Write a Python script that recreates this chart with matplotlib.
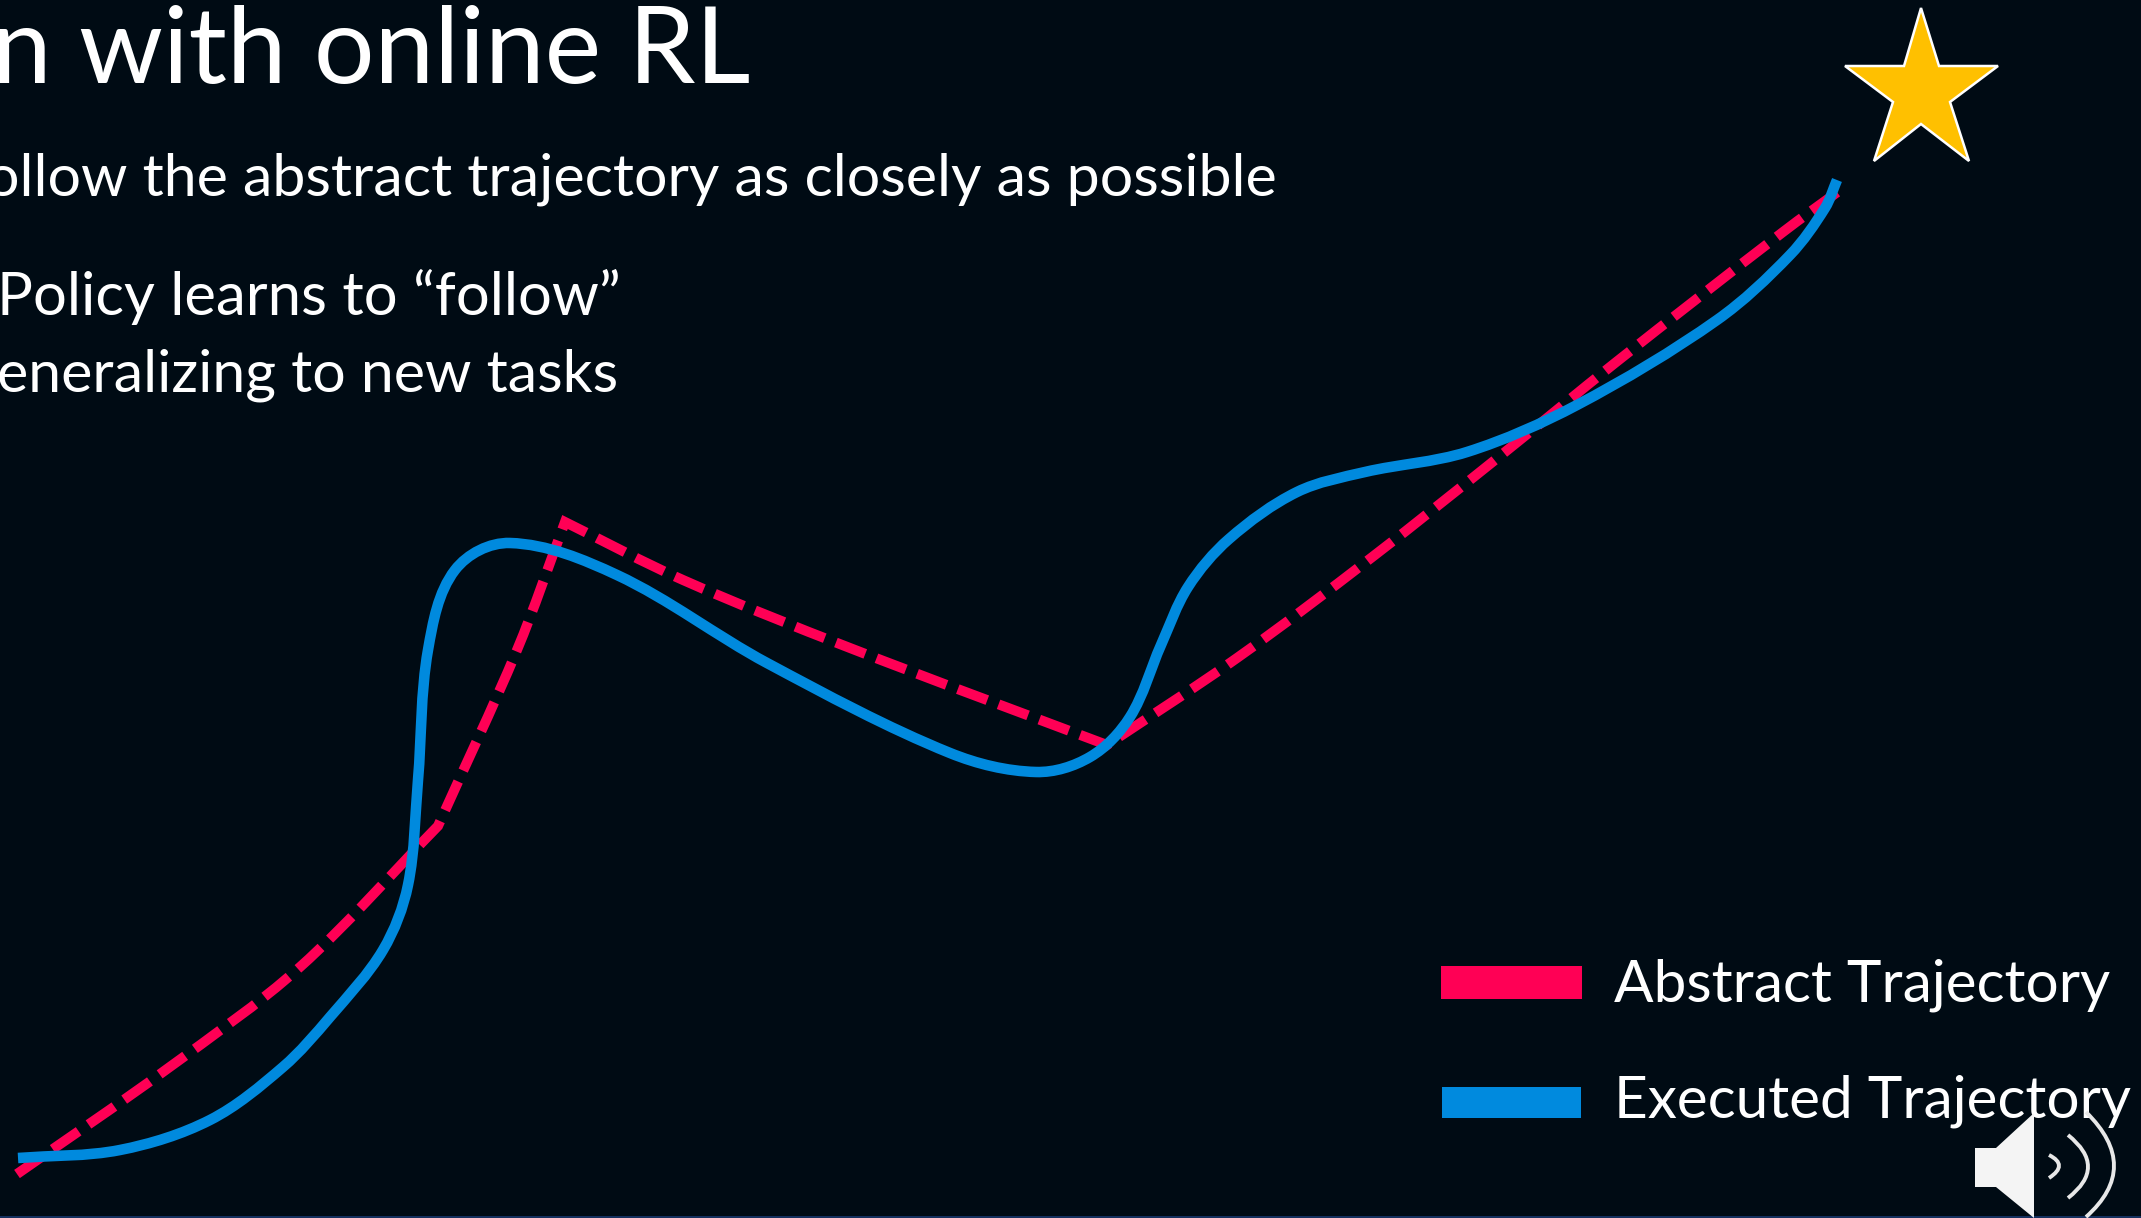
import numpy as np
import matplotlib
matplotlib.use("Agg")
import matplotlib.pyplot as plt
from matplotlib.patches import PathPatch, Polygon, Rectangle
from matplotlib.path import Path

plt.rcParams['font.family'] = ['Lato', 'DejaVu Sans']

BG = '#000b14'
RED = '#ff0055'
BLUE = '#008ade'

# trajectories, in slide pixels
abstract_x = [17, 167, 300, 438, 517, 565,
              683, 850, 1107,
              1237, 1371, 1505, 1615, 1783, 1843]
abstract_y = [1174, 1069, 967, 826, 650, 522,
              580, 648, 745,
              658, 558, 452, 363, 232, 188]
abstract_corners = [3, 5, 8]

executed_x = [18, 120, 210, 283, 330, 383, 408, 418, 428, 455, 510,
              617, 767, 950, 1036, 1090, 1130, 1161, 1188, 1229, 1297,
              1365, 1467, 1577, 1717, 1790, 1825, 1837]
executed_y = [1158, 1150, 1120, 1067, 1017, 950, 885, 780, 650, 570, 543,
              575, 663, 753, 772, 757, 717, 645, 587, 539, 492,
              472, 452, 405, 320, 255, 208, 180]

star_x = [1921, 1939, 1998, 1950, 1969, 1921, 1874, 1893, 1845, 1904]
star_y = [8, 66, 66, 102, 161, 124, 161, 102, 66, 66]

legend_labels = ['Abstract Trajectory', 'Executed Trajectory']
title_text = 'n with online RL'
bullet_text = 'ollow the abstract trajectory as closely as possible'
sub_lines = ['Policy learns to \u201cfollow\u201d', 'eneralizing to new tasks']


def smooth_path(xs, ys, corners=()):
    # spline through the points, handles sized by the length of each span;
    # the curve restarts its tangent at each corner index
    pts = np.column_stack([xs, ys]).astype(float)
    breaks = [0] + list(corners) + [len(pts) - 1]
    verts = [pts[0]]
    codes = [Path.MOVETO]
    for a, b in zip(breaks[:-1], breaks[1:]):
        piece = pts[a:b + 1]
        tangents = []
        for i in range(len(piece)):
            t = piece[min(i + 1, len(piece) - 1)] - piece[max(i - 1, 0)]
            tangents.append(t / np.hypot(*t))
        for i in range(len(piece) - 1):
            span = np.hypot(*(piece[i + 1] - piece[i]))
            verts += [piece[i] + tangents[i] * span / 3,
                      piece[i + 1] - tangents[i + 1] * span / 3,
                      piece[i + 1]]
            codes += [Path.CURVE4] * 3
    return Path(verts, codes)


fig = plt.figure(figsize=(21.41, 12.18), dpi=100, facecolor=BG)
ax = fig.add_axes([0, 0, 1, 1])
ax.set_xlim(0, 2141)
ax.set_ylim(1218, 0)
ax.axis('off')

# strip along the bottom edge
ax.add_patch(Rectangle((0, 1216), 2141, 2, fc='#14305e', ec='none'))

# --- trajectories ---
ax.add_patch(PathPatch(smooth_path(abstract_x, abstract_y, abstract_corners), fc='none', ec=RED,
                       lw=7.2, linestyle=(0, (3.15, 1.2)), capstyle='butt', joinstyle='miter', zorder=2))
ax.add_patch(PathPatch(smooth_path(executed_x, executed_y), fc='none', ec=BLUE,
                       lw=7.6, capstyle='butt', joinstyle='round', zorder=3))

# --- goal star ---
ax.add_patch(Polygon(np.column_stack([star_x, star_y]), closed=True, fc='#ffc000',
                     ec='white', lw=1.8, joinstyle='miter', zorder=3))

# --- text ---
ax.text(750, 83, title_text, color='white', fontsize=77, ha='right', va='baseline')
ax.text(1277, 196, bullet_text, color='white', fontsize=42.6, ha='right', va='baseline')
ax.text(621, 315, sub_lines[0], color='white', fontsize=43.1, ha='right', va='baseline')
ax.text(618, 392, sub_lines[1], color='white', fontsize=42.6, ha='right', va='baseline')

# --- legend ---
ax.add_patch(Rectangle((1441, 966), 141, 33, fc=RED, ec='none'))
ax.add_patch(Rectangle((1442, 1087), 139, 31, fc=BLUE, ec='none'))
ax.text(2110, 1001, legend_labels[0], color='white', fontsize=42.1, ha='right', va='baseline')
ax.text(2131, 1117, legend_labels[1], color='white', fontsize=42.1, ha='right', va='baseline')

# --- speaker icon ---
ax.add_patch(Polygon([(1975, 1148), (1996, 1148), (2034, 1113), (2034, 1218), (1996, 1187), (1975, 1187)],
                     closed=True, fc='#f4f4f4', ec='none', zorder=5))
for start, ctrl, end in [((2049, 1155), (2069, 1165), (2049, 1178)),
                         ((2068, 1135), (2108, 1167), (2068, 1198)),
                         ((2086, 1112), (2142, 1167), (2086, 1217))]:
    arc = Path([start, ctrl, end], [Path.MOVETO, Path.CURVE3, Path.CURVE3])
    ax.add_patch(PathPatch(arc, fc='none', ec='#e8e8e8', lw=2.8, zorder=5))

fig.savefig('out.png', dpi=100, facecolor=BG)
